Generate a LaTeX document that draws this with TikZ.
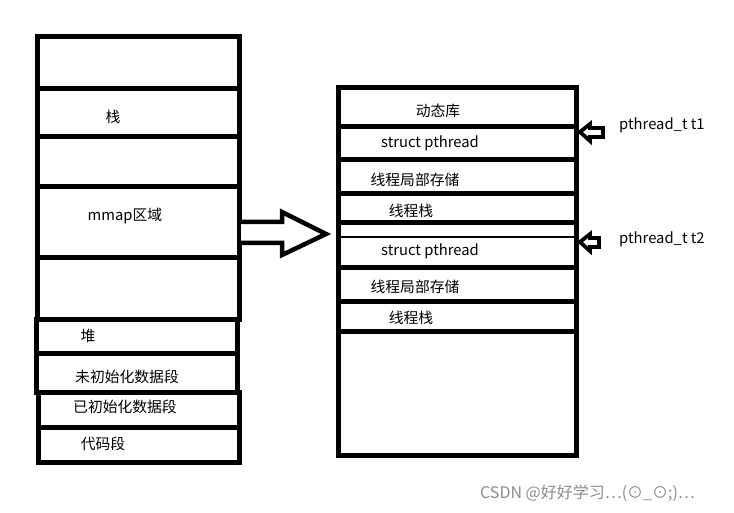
\documentclass[tikz,border=0pt]{standalone}
\usepackage{fontspec}
\setmainfont{Noto Sans CJK SC}
\begin{document}
\begin{tikzpicture}[x=1pt,y=-1pt,
  seg/.style={draw=black,line width=5pt,fill=white},
  thin/.style={draw=black,line width=2.2pt},
  lbl/.style={font=\fontsize{14.8}{16}\selectfont,inner sep=0pt},
  hollow/.style={draw=black,line width=4.5pt,fill=white,line join=miter},
  small/.style={draw=black,line width=3.8pt,fill=white,line join=miter},
  wm/.style={font=\fontsize{16}{18}\selectfont,text=black!45,inner sep=0pt}]
\useasboundingbox (0,0) rectangle (734,513);
% left column (process address space)
\draw[seg] (37,37) rectangle (239,89);
\draw[seg] (37,89) rectangle (239,137);
\draw[seg] (37,137) rectangle (239,187);
\draw[seg] (37,187) rectangle (239,258);
\draw[seg] (37,258) rectangle (239,319);
\draw[seg] (36,319) rectangle (237,353);
\draw[seg] (36,353) rectangle (237,392);
\draw[seg] (38,392) rectangle (239,427);
\draw[seg] (38,427) rectangle (239,462);
\node[lbl] (stack) at (113,117) {栈};
\node[lbl] (mmap) at (125,216) {mmap区域};
\node[lbl] (heap) at (88,336) {堆};
\node[lbl] (bss) at (127,377) {未初始化数据段};
\node[lbl] (data) at (125,407) {已初始化数据段};
\node[lbl] (text) at (103,444) {代码段};
% right column (mmap detail)
\draw[seg] (338,88) rectangle (576,127);
\draw[seg] (338,127) rectangle (576,160);
\draw[seg] (338,160) rectangle (576,194);
\draw[seg] (338,194) rectangle (576,223);
\draw[seg] (338,223) rectangle (576,455);
\draw[draw=white,line width=5pt] (342,230) -- (572,230);
\draw[thin] (340,237) -- (574,237);
\draw[seg] (338,268) rectangle (576,302);
\draw[seg] (338,302) rectangle (576,331);
\node[lbl] (dyn) at (438,111) {动态库};
\node[lbl] (sp1) at (430,143) {struct pthread};
\node[lbl] (tls1) at (415,180) {线程局部存储};
\node[lbl] (ts1) at (411,211) {线程栈};
\node[lbl] (sp2) at (430,251) {struct pthread};
\node[lbl] (tls2) at (415,287) {线程局部存储};
\node[lbl] (ts2) at (411,318) {线程栈};
% big hollow arrow
\coordinate (bigtail) at (241,232);
\coordinate (bigtip) at (326,234);
\draw[hollow] (bigtail) ++(0,-10) -- (282,222) -- (282,212) -- (bigtip) -- (282,255) -- (282,243) -- (241,243);
% thread ids
\node[lbl,anchor=west] (t1) at (619,125) {pthread\_t t1};
\node[lbl,anchor=west] (t2) at (619,239) {pthread\_t t2};
\coordinate (a1) at (580,132);
\coordinate (a2) at (580,242);
\draw[small] (a1) -- (590,124) -- (590,128) -- (603,128) -- (603,137) -- (590,137) -- (590,141) -- cycle;
\draw[small] (a2) -- (590,234) -- (590,238) -- (599,238) -- (599,247) -- (590,247) -- (590,251) -- cycle;
% watermark
\node[wm,anchor=west] (wmk) at (480,493) {CSDN @好好学习⋯(⊙\_⊙;)⋯};
\end{tikzpicture}
\end{document}
